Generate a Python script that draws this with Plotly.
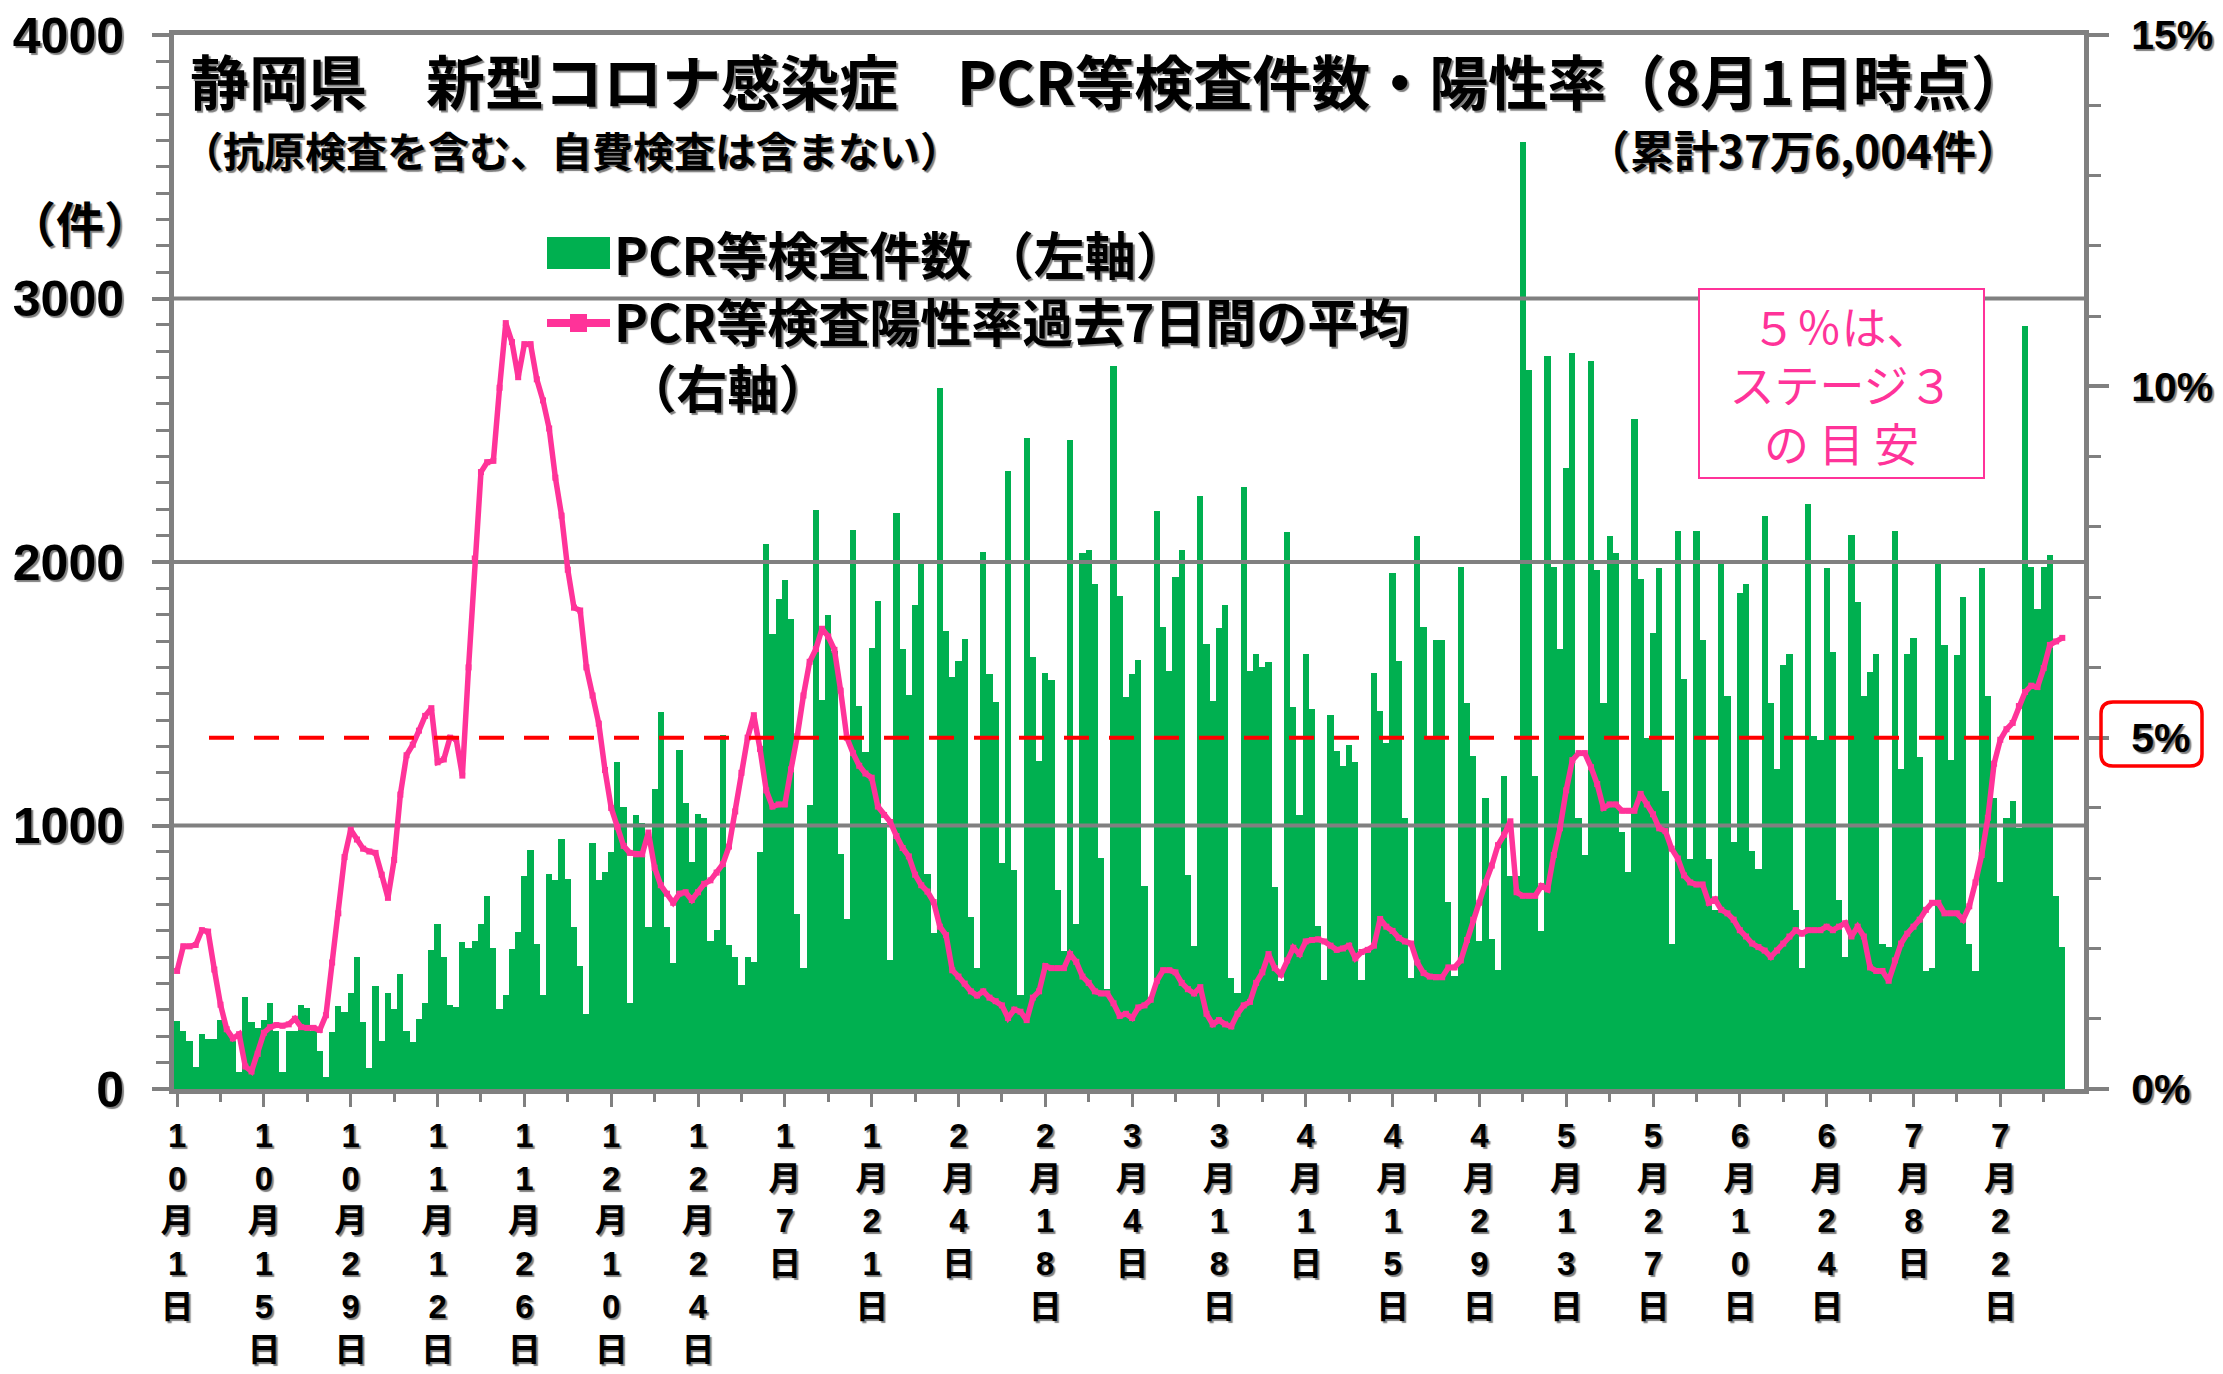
import plotly.graph_objects as go

# ---------------- data ----------------
# daily PCR test counts, 2020-10-01 .. 2021-08-01 (left axis)
tests = [
    259, 222, 181, 82, 210, 191, 191,
    263, 222, 181, 64, 350, 253, 232,
    263, 325, 222, 64, 222, 222, 319,
    309, 222, 144, 47, 216, 315, 294,
    366, 500, 253, 78, 391, 181, 366,
    305, 438, 222, 177, 267, 325, 527,
    628, 500, 319, 311, 556, 535, 562,
    628, 733, 535, 305, 356, 531, 597,
    809, 907, 551, 356, 815, 792, 949,
    798, 613, 465, 284, 932, 794, 823,
    901, 1241, 1070, 325, 1041, 1008, 613,
    1138, 1432, 613, 479, 1288, 1086, 860,
    1045, 1029, 562, 603, 1343, 547, 502,
    395, 502, 481, 898, 2070, 1727, 1858,
    1933, 1782, 665, 461, 1079, 2196, 1477,
    1798, 1664, 890, 647, 2121, 1454, 1279,
    1672, 1853, 1008, 489, 2185, 1669, 1496,
    1838, 2004, 815, 592, 2660, 1740, 1564,
    1625, 1709, 654, 458, 2039, 1575, 1468,
    856, 2346, 831, 356, 2472, 1641, 1245,
    1580, 1554, 757, 524, 2464, 626, 2034,
    2044, 1918, 878, 379, 2742, 1871, 1488,
    1575, 1627, 769, 345, 2192, 1753, 1586,
    1942, 2044, 812, 541, 2251, 1688, 1473,
    1748, 1838, 422, 363, 2286, 1586, 1650,
    1603, 1620, 765, 411, 2115, 1449, 1040,
    1650, 1444, 618, 415, 1418, 1284, 1226,
    1307, 1241, 415, 521, 1580, 1433, 1315,
    1957, 1626, 1028, 423, 2098, 1755, 1338,
    1704, 1704, 711, 430, 1982, 1466, 1265,
    560, 1106, 570, 450, 1188, 809, 809,
    3593, 2729, 1188, 600, 2781, 1982, 1668,
    2356, 2794, 1028, 887, 2763, 1969, 1466,
    2098, 2034, 977, 822, 2541, 1936, 1332,
    1729, 1977, 1131, 552, 2116, 1557, 874,
    2116, 1704, 874, 680, 1995, 1492, 938,
    1884, 1918, 905, 835, 2175, 1466, 1214,
    1608, 1652, 680, 461, 2219, 1338, 1325,
    1977, 1660, 719, 500, 2103, 1848, 1492,
    1582, 1652, 552, 539, 2119, 1214, 1652,
    1711, 1260, 448, 461, 2008, 1686, 1247,
    1647, 1866, 552, 448, 1977, 1492, 1106,
    784, 1028, 1093, 990, 2897, 1982, 1822,
    1982, 2028, 732, 539,
]

# positive rate, 7-day average (%) (right axis)
rates = [
    1.68, 2.03, 2.03, 2.05, 2.26, 2.24, 1.70,
    1.20, 0.85, 0.72, 0.78, 0.32, 0.25, 0.50,
    0.80, 0.88, 0.91, 0.90, 0.92, 1.00, 0.88,
    0.87, 0.87, 0.84, 1.05, 1.80, 2.50, 3.30,
    3.69, 3.55, 3.42, 3.38, 3.36, 3.05, 2.72,
    3.26, 4.19, 4.75, 4.90, 5.10, 5.31, 5.42,
    4.65, 4.69, 5.00, 4.98, 4.46, 6.00, 7.55,
    8.78, 8.92, 8.94, 9.98, 10.90, 10.63, 10.13,
    10.60, 10.60, 10.10, 9.80, 9.40, 8.70, 8.16,
    7.39, 6.85, 6.81, 6.00, 5.60, 5.20, 4.54,
    4.00, 3.73, 3.46, 3.36, 3.34, 3.34, 3.65,
    3.15, 2.90, 2.78, 2.65, 2.78, 2.80, 2.69,
    2.80, 2.92, 2.97, 3.08, 3.20, 3.45, 3.95,
    4.50, 5.00, 5.32, 4.84, 4.25, 4.02, 4.05,
    4.05, 4.55, 5.02, 5.60, 6.08, 6.26, 6.55,
    6.44, 6.25, 5.67, 5.00, 4.78, 4.60, 4.49,
    4.43, 4.02, 3.90, 3.80, 3.60, 3.43, 3.31,
    3.05, 2.90, 2.81, 2.66, 2.31, 2.19, 1.69,
    1.60, 1.50, 1.39, 1.33, 1.39, 1.30, 1.25,
    1.19, 1.01, 1.13, 1.10, 0.98, 1.30, 1.39,
    1.75, 1.72, 1.72, 1.72, 1.92, 1.81, 1.60,
    1.51, 1.39, 1.36, 1.36, 1.22, 1.04, 1.07,
    1.01, 1.16, 1.19, 1.27, 1.54, 1.69, 1.69,
    1.66, 1.51, 1.42, 1.36, 1.45, 1.07, 0.92,
    0.98, 0.92, 0.89, 1.07, 1.19, 1.24, 1.51,
    1.66, 1.92, 1.72, 1.63, 1.83, 2.01, 1.92,
    2.10, 2.12, 2.13, 2.10, 2.04, 1.98, 2.00,
    2.04, 1.86, 1.95, 1.98, 2.04, 2.42, 2.31,
    2.25, 2.15, 2.10, 2.07, 1.80, 1.65, 1.60,
    1.59, 1.59, 1.73, 1.73, 1.83, 2.12, 2.41,
    2.65, 2.94, 3.18, 3.47, 3.62, 3.81, 2.80,
    2.75, 2.75, 2.75, 2.89, 2.84, 3.33, 3.71,
    4.25, 4.68, 4.78, 4.78, 4.58, 4.34, 4.00,
    4.05, 4.05, 3.96, 3.96, 3.96, 4.20, 4.05,
    3.91, 3.71, 3.67, 3.42, 3.28, 3.04, 2.94,
    2.91, 2.91, 2.65, 2.70, 2.55, 2.50, 2.41,
    2.26, 2.17, 2.07, 2.02, 1.97, 1.88, 1.97,
    2.07, 2.17, 2.26, 2.21, 2.26, 2.26, 2.26,
    2.31, 2.26, 2.31, 2.36, 2.17, 2.31, 2.17,
    1.73, 1.68, 1.68, 1.54, 1.83, 2.07, 2.21,
    2.31, 2.41, 2.55, 2.65, 2.65, 2.50, 2.50,
    2.50, 2.41, 2.60, 2.94, 3.33, 3.86, 4.63,
    4.97, 5.12, 5.21, 5.45, 5.65, 5.74, 5.72,
    5.99, 6.32, 6.37, 6.42,
]

days = list(range(len(tests)))

tick_days = [0, 14, 28, 42, 56, 70, 84, 98, 112, 126, 140, 154, 168, 182,
             196, 210, 224, 238, 252, 266, 280, 294]
tick_labels = ["10月1日", "10月15日", "10月29日", "11月12日", "11月26日",
               "12月10日", "12月24日", "1月7日", "1月21日", "2月4日", "2月18日",
               "3月4日", "3月18日", "4月1日", "4月15日", "4月29日", "5月13日",
               "5月27日", "6月10日", "6月24日", "7月8日", "7月22日"]
minor_days = [d + 7 for d in tick_days]

left_ticks = [0, 1000, 2000, 3000, 4000]
left_labels = ["0", "1000", "2000", "3000", "4000"]
grid_values = [1000, 2000, 3000]
right_ticks = [0, 5, 10, 15]
right_labels = ["0%", "5%", "10%", "15%"]
stage3_line = 5

title_text = "静岡県　新型コロナ感染症　PCR等検査件数・陽性率（8月1日時点）"
subtitle_text = "（抗原検査を含む、自費検査は含まない）"
total_text = "（累計37万6,004件）"
unit_text = "（件）"
legend_bar = "PCR等検査件数 （左軸）"
legend_line = "PCR等検査陽性率過去7日間の平均<br> （右軸）"
note_text = "５％は、<br>ステージ３<br>の 目 安"

# ---------------- styles ----------------
GREEN = "#00B050"
PINK = "#FF3399"
GRAY = "#808080"
JP = "Noto Sans CJK JP"
NUM = "Liberation Sans, Noto Sans CJK JP"
SHADOW = "2px 2px 1px #7f7f7f"

# page body has an 8px margin: the figure is drawn 8px right/down of window origin
OFF = 8
WIN_W, WIN_H = 2223, 1374
W, H = WIN_W - OFF, WIN_H - OFF
# plot area in window pixels
PLw, PRw, PTw, PBw = 174, 2084, 35, 1089
XR = [-0.5, 307.5]


def px(X):
    return (X - PLw) / (PRw - PLw)


def py(Y):
    return (PBw - Y) / (PBw - PTw)


fig = go.Figure()

fig.add_trace(go.Bar(x=days, y=tests, marker=dict(color=GREEN, line=dict(width=0)),
                     name="PCR等検査件数", hoverinfo="skip"))

for g in grid_values:
    fig.add_trace(go.Scatter(x=XR, y=[g, g], mode="lines",
                             line=dict(color=GRAY, width=4),
                             hoverinfo="skip", showlegend=False))

fig.add_trace(go.Scatter(x=days, y=rates, yaxis="y2", mode="lines+markers",
                         line=dict(color=PINK, width=5.5),
                         marker=dict(symbol="square", size=6, color=PINK),
                         name="陽性率", hoverinfo="skip"))


def ann(text, X, Y, size, xanchor="left", yanchor="middle", color="black",
        bold=True, family=JP, **kw):
    d = dict(text=text, x=px(X), y=py(Y), xref="paper", yref="paper",
             xanchor=xanchor, yanchor=yanchor, showarrow=False,
             font=dict(family=family, size=size, color=color,
                       weight="bold" if bold else "normal"))
    if bold:
        d["font"]["shadow"] = SHADOW
    d.update(kw)
    return d


annotations = [
    ann(title_text, 188, 79, 59),
    ann(subtitle_text, 180, 149, 41),
    ann(total_text, 2022, 149, 44, xanchor="right"),
    ann(unit_text, 80, 221, 48, xanchor="center"),
    ann(legend_bar, 612, 253, 51),
    ann(legend_line, 612, 281, 51, yanchor="top", align="left"),
    ann(note_text, 1841.5, 383.5, 45, xanchor="center", color=PINK, bold=False,
        width=283, height=187, bordercolor=PINK, borderwidth=2, borderpad=0,
        bgcolor="white", align="center", valign="middle"),
]


def rounded_rect(x0, y0, x1, y1, r):
    rx = r / (PRw - PLw)
    ry = r / (PBw - PTw)
    a, b, c, d = px(x0), px(x1), py(y1), py(y0)  # left, right, bottom, top
    return (f"M {a+rx},{d} L {b-rx},{d} Q {b},{d} {b},{d-ry} "
            f"L {b},{c+ry} Q {b},{c} {b-rx},{c} L {a+rx},{c} "
            f"Q {a},{c} {a},{c+ry} L {a},{d-ry} Q {a},{d} {a+rx},{d} Z")


shapes = [
    dict(type="line", xref="paper", yref="y2", x0=px(209), x1=px(2099),
         y0=stage3_line, y1=stage3_line,
         line=dict(color="#FF0000", width=4, dash="25px,20px")),
    dict(type="path", xref="paper", yref="paper",
         path=rounded_rect(2101, 702, 2202, 766, 12),
         line=dict(color="#FF0000", width=3.5)),
    dict(type="rect", xref="paper", yref="paper", x0=px(547), x1=px(610),
         y0=py(269), y1=py(237), fillcolor=GREEN, line=dict(width=0)),
    dict(type="line", xref="paper", yref="paper", x0=px(547), x1=px(610),
         y0=py(323), y1=py(323), line=dict(color=PINK, width=8)),
    dict(type="rect", xref="paper", yref="paper", x0=px(570), x1=px(587),
         y0=py(332), y1=py(314), fillcolor=PINK, line=dict(width=0)),
]

fig.update_layout(
    width=W, height=H,
    margin=dict(l=PLw - OFF, r=WIN_W - PRw, t=PTw - OFF, b=WIN_H - PBw, autoexpand=False),
    paper_bgcolor="white", plot_bgcolor="white",
    showlegend=False, bargap=0,
    annotations=annotations, shapes=shapes,
    xaxis=dict(
        range=XR, tickmode="array", tickvals=tick_days,
        ticktext=["<br>".join(list(t)) for t in tick_labels],
        ticks="outside", ticklen=13, tickwidth=3, tickcolor=GRAY,
        showline=True, linecolor=GRAY, linewidth=5, mirror=True,
        showgrid=False, zeroline=False, tickangle=0, automargin=False,
        ticklabeloverflow="allow",
        tickfont=dict(family=NUM, size=33, color="black", weight="bold", shadow=SHADOW),
        minor=dict(tickmode="array", tickvals=minor_days, ticks="outside",
                   ticklen=8, tickwidth=3, tickcolor=GRAY, showgrid=False),
    ),
    yaxis=dict(
        range=[0, 4000], tickmode="array", tickvals=left_ticks, ticktext=left_labels,
        ticks="outside", ticklen=17, tickwidth=4, tickcolor=GRAY,
        showline=True, linecolor=GRAY, linewidth=5, mirror=True,
        showgrid=False, zeroline=False, ticklabelstandoff=18, automargin=False,
        ticklabeloverflow="allow",
        tickfont=dict(family=NUM, size=50, color="black", weight="bold", shadow=SHADOW),
        minor=dict(tickmode="array",
                   tickvals=[v for v in range(100, 4000, 100) if v % 1000],
                   ticks="outside", ticklen=13, tickwidth=3, tickcolor=GRAY,
                   showgrid=False),
    ),
    yaxis2=dict(
        overlaying="y", side="right", range=[0, 15],
        tickmode="array", tickvals=right_ticks, ticktext=right_labels,
        ticks="outside", ticklen=20, tickwidth=4, tickcolor=GRAY,
        showline=True, linecolor=GRAY, linewidth=5, automargin=False,
        showgrid=False, zeroline=False, ticklabelstandoff=14,
        ticklabeloverflow="allow",
        tickfont=dict(family=NUM, size=41, color="black", weight="bold", shadow=SHADOW),
        minor=dict(tickmode="array", tickvals=[1, 2, 3, 4, 6, 7, 8, 9, 11, 12, 13, 14],
                   ticks="outside", ticklen=12, tickwidth=3, tickcolor=GRAY,
                   showgrid=False),
    ),
)

fig.write_html("out.html")
